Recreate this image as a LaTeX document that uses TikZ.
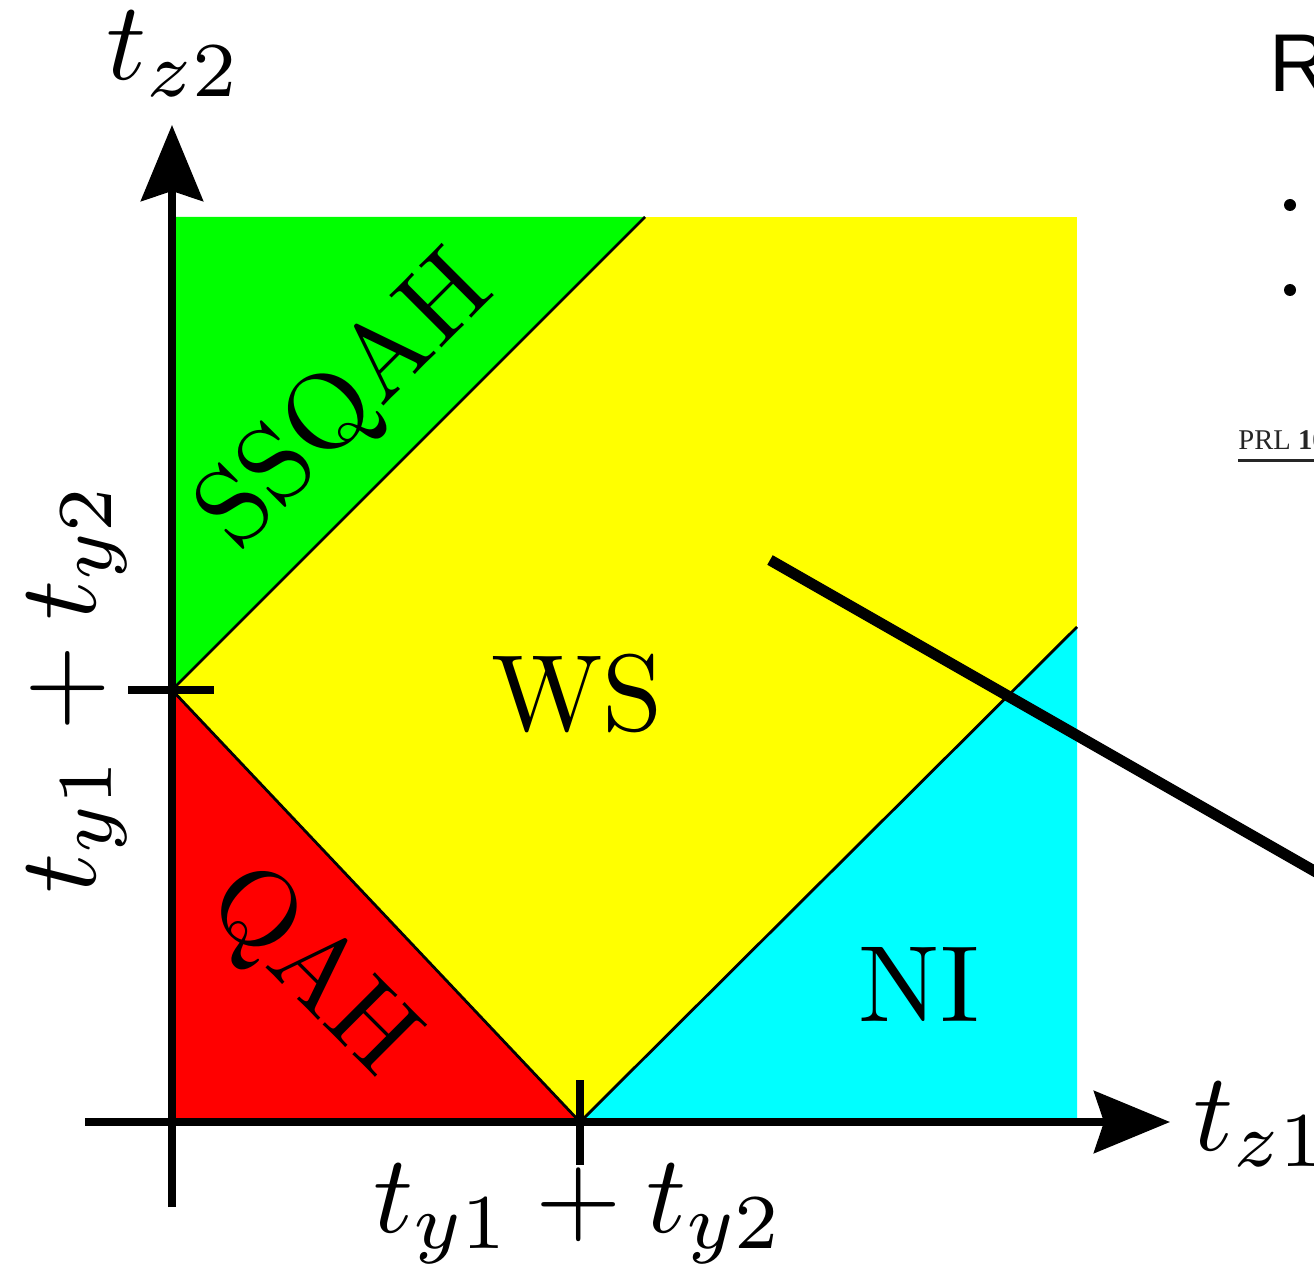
\documentclass[tikz,border=0pt]{standalone}
\usepackage{fix-cm}
\usepackage{fontspec}
\newfontfamily\helvfont{Liberation Sans}
\newfontfamily\prlfont{Liberation Serif}
\usetikzlibrary{arrows.meta}
\definecolor{qgreen}{RGB}{0,255,0}
\definecolor{qred}{RGB}{255,0,0}
\definecolor{qyellow}{RGB}{255,255,0}
\definecolor{qcyan}{RGB}{0,255,255}
\newcommand{\axistext}[1]{\scalebox{5.55}{#1}}
\newcommand{\phasetext}[1]{\scalebox{5.42}{#1}}
\tikzset{
  axisline/.style={line width=3.8pt,-{Stealth[length=38pt,width=31pt,inset=5pt]}},
  tickline/.style={line width=3.6pt},
  borderline/.style={line width=1.4pt},
  axislabel/.style={inner sep=0pt,font=\fontsize{10}{12}\selectfont},
  phaselabel/.style={inner sep=0pt,font=\fontsize{10}{12}\selectfont},
  pointer/.style={line width=5.5pt},
}
\begin{document}
\begin{tikzpicture}[x=0.5pt,y=-0.5pt]
\useasboundingbox (0,0) rectangle (1314,1284);
\clip (0,0) rectangle (1314,1284);
% corner points
\coordinate (O) at (172,1122);
\coordinate (TL) at (172,217);
\coordinate (TR) at (1077,217);
\coordinate (BR) at (1077,1122);
\coordinate (L) at (172,690);
\coordinate (T) at (645,217);
\coordinate (B) at (580,1122);
\coordinate (R) at (1077,627);
% regions
\fill[qyellow] (TL) rectangle (BR);
\fill[qgreen] (TL) -- (T) -- (L) -- cycle;
\fill[qred] (L) -- (B) -- (O) -- cycle;
\fill[qcyan] (B) -- (BR) -- (R) -- cycle;
\draw[borderline] (L) -- (T);
\draw[borderline] (L) -- (B);
\draw[borderline] (B) -- (R);
% axes
\coordinate (ybot) at (172,1207);
\coordinate (ytop) at (172,125);
\coordinate (xleft) at (85,1122);
\coordinate (xright) at (1170,1122);
\draw[axisline] (ybot) -- (ytop);
\draw[axisline] (xleft) -- (xright);
% ticks
\coordinate (tl1) at (128,690);
\coordinate (tl2) at (214,690);
\coordinate (tb1) at (580,1080);
\coordinate (tb2) at (580,1165);
\draw[tickline] (tl1) -- (tl2);
\draw[tickline] (tb1) -- (tb2);
% axis labels
\node[axislabel,anchor=base west] (tz2) at (106,80) {\axistext{$t_{z2}$}};
\node[axislabel,anchor=base west] (tz1) at (1193,1150) {\axistext{$t_{z1}$}};
\node[axislabel,anchor=base] (tyb) at (579,1232) {\axistext{$t_{y1}+t_{y2}$}};
\node[axislabel,anchor=base,rotate=90] (tyl) at (95,688) {\axistext{$t_{y1}+t_{y2}$}};
% phase labels
\node[phaselabel,rotate=45] (ssqah) at (347,403) {\phasetext{SSQAH}};
\node[phaselabel,rotate=-45] (qah) at (311,973) {\phasetext{QAH}};
\node[phaselabel] (ws) at (577,693) {\phasetext{WS}};
\node[phaselabel] (ni) at (919,984) {\phasetext{NI}};
% pointer line
\coordinate (p1) at (770,560);
\coordinate (p2) at (1330,880);
\draw[pointer] (p1) -- (p2);
% cut-off slide text on the right
\node[inner sep=0pt,anchor=base west,font=\helvfont\fontsize{41}{48}\selectfont] (rtext) at (1269,92) {R};
\fill (1290,205) circle (6);
\fill (1290,290) circle (6);
\node[inner sep=0pt,anchor=base west,font=\prlfont\fontsize{14.3}{17}\selectfont,text=black!85] (prl) at (1238,449) {PRL \textbf{10}};
\coordinate (u1) at (1238,460);
\coordinate (u2) at (1320,460);
\draw[line width=1.5pt,black!85] (u1) -- (u2);
\end{tikzpicture}
\end{document}
